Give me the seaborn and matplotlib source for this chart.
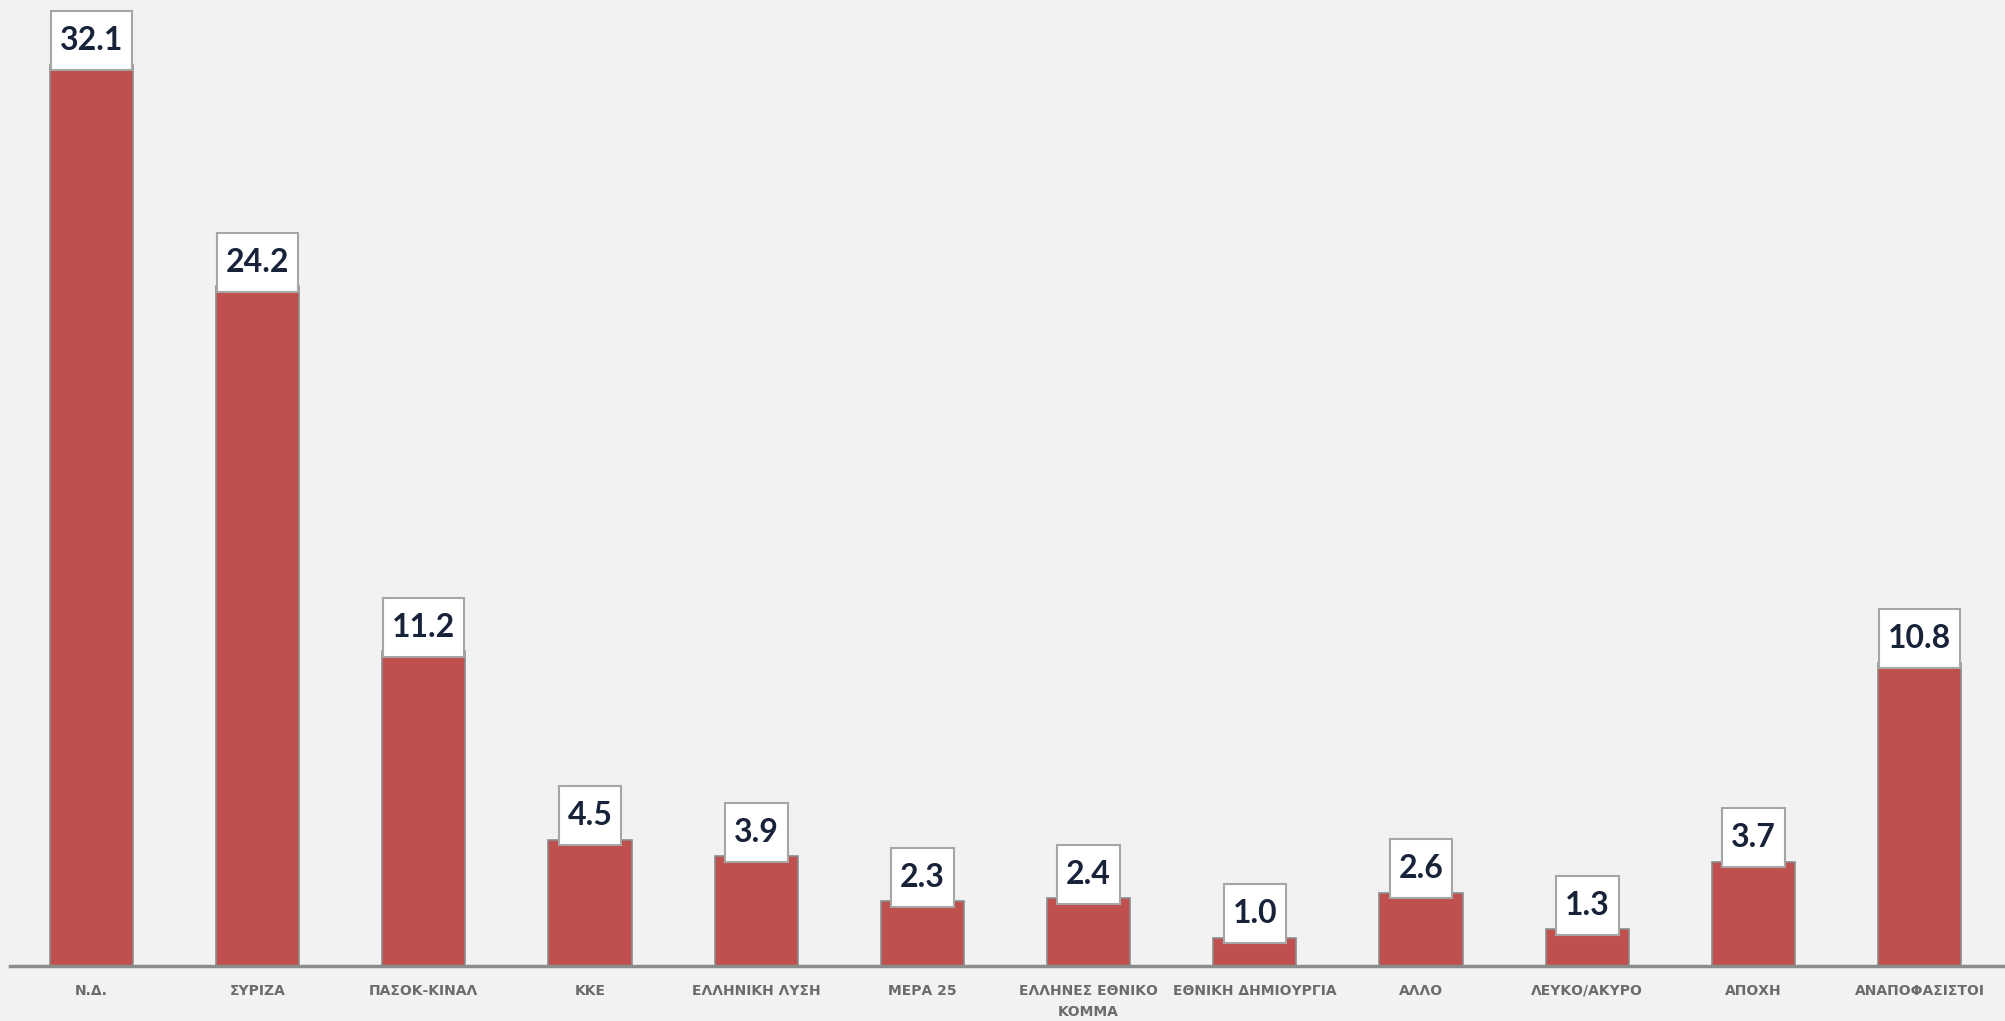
import matplotlib
matplotlib.use('Agg')
import matplotlib.pyplot as plt
from matplotlib.path import Path
import seaborn as sns
import pandas as pd

# Poll results (%)
parties = ['Ν.Δ.', 'ΣΥΡΙΖΑ', 'ΠΑΣΟΚ-ΚΙΝΑΛ', 'ΚΚΕ', 'ΕΛΛΗΝΙΚΗ ΛΥΣΗ', 'ΜΕΡΑ 25',
           'ΕΛΛΗΝΕΣ ΕΘΝΙΚΟ\nΚΟΜΜΑ', 'ΕΘΝΙΚΗ ΔΗΜΙΟΥΡΓΙΑ', 'ΑΛΛΟ', 'ΛΕΥΚΟ/ΑΚΥΡΟ',
           'ΑΠΟΧΗ', 'ΑΝΑΠΟΦΑΣΙΣΤΟΙ']
values = [32.1, 24.2, 11.2, 4.5, 3.9, 2.3, 2.4, 1.0, 2.6, 1.3, 3.7, 10.8]

df = pd.DataFrame({'party': parties, 'value': values})

bg = '#f2f2f2'
sns.set_style('white')
plt.rcParams['font.family'] = ['DejaVu Sans']


def tall_box(x0, y0, width, height, mutation_size):
    # rectangle with more padding above/below than on the sides
    px, py = 0.28 * mutation_size, 0.47 * mutation_size
    x0, y0 = x0 - px, y0 - py
    x1, y1 = x0 + width + 2 * px, y0 + height + 2 * py
    return Path([(x0, y0), (x1, y0), (x1, y1), (x0, y1), (x0, y0)], closed=True)


fig = plt.figure(figsize=(20.06, 10.21), dpi=100, facecolor=bg)
ax = fig.add_axes([0.005, 0.054, 0.995, 0.946])
ax.set_facecolor(bg)

sns.barplot(data=df, x='party', y='value', color='#c0504d', width=0.5,
            edgecolor='#8c8c8c', linewidth=1.2, saturation=1, ax=ax)

# value labels in white boxes sitting on top of the bars
for i, v in enumerate(values):
    ax.annotate(f'{v:.1f}', xy=(i, v), xytext=(0, 7), textcoords='offset points',
                ha='center', va='bottom', fontsize=23, fontweight='bold',
                family=['Lato', 'DejaVu Sans'], color='#18233a',
                bbox=dict(boxstyle=tall_box, facecolor='white',
                          edgecolor='#a6a6a6', linewidth=1.5))

ax.set_ylim(0, 34.4)
ax.set_xlim(-0.49, 11.52)
ax.set_xlabel('')
ax.set_ylabel('')
ax.set_yticks([])
ax.tick_params(axis='x', length=0, pad=13)
for lbl in ax.get_xticklabels():
    lbl.set_fontsize(10)
    lbl.set_fontweight('bold')
    lbl.set_color('#6b6b6b')
    lbl.set_linespacing(1.6)

for side in ['top', 'right', 'left']:
    ax.spines[side].set_visible(False)
ax.spines['bottom'].set_color('#8c8c8c')
ax.spines['bottom'].set_linewidth(2.5)

fig.savefig('out.png', dpi=100, facecolor=bg)
